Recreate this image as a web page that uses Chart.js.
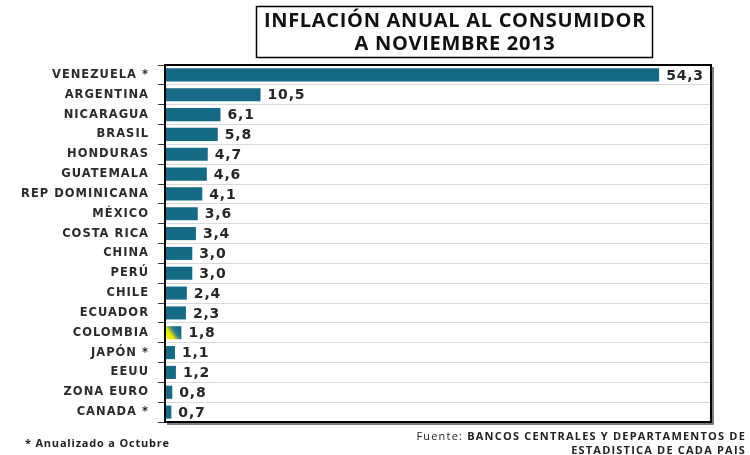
<!DOCTYPE html>
<html><head><meta charset="utf-8">
<script src="https://cdn.jsdelivr.net/npm/chart.js@4/dist/chart.umd.min.js"></script>
<style>html,body{margin:0;padding:0;background:#fff;}#wrap{width:750px;height:455px;position:relative;}</style>
</head><body><div id="wrap"><canvas id="c" width="750" height="455"></canvas></div>
<script>
const categories = ['VENEZUELA *','ARGENTINA','NICARAGUA','BRASIL','HONDURAS','GUATEMALA','REP DOMINICANA','MÉXICO','COSTA RICA','CHINA','PERÚ','CHILE','ECUADOR','COLOMBIA','JAPÓN *','EEUU','ZONA EURO','CANADA *'];
const inflation = [54.3,10.5,6.1,5.8,4.7,4.6,4.1,3.6,3.4,3.0,3.0,2.4,2.3,1.8,1.1,1.2,0.8,0.7];
const highlighted = ['COLOMBIA'];
const titleLines = ['INFLACIÓN ANUAL AL CONSUMIDOR','A NOVIEMBRE 2013'];
const footLeft = '* Anualizado a Octubre';
const sourceLines = ['BANCOS CENTRALES Y DEPARTAMENTOS DE','ESTADISTICA DE CADA PAIS'];

const fmt = v => v.toFixed(1).replace('.', ',');

const barColor = (ctx) => {
  const chart = ctx.chart;
  const i = ctx.dataIndex;
  if (highlighted.includes(categories[i]) && chart.scales.x && chart.scales.y) {
    const xs = chart.scales.x, ys = chart.scales.y;
    const x0 = xs.getPixelForValue(0), x1 = xs.getPixelForValue(inflation[i]);
    const yc = ys.getPixelForValue(i);
    const g = chart.ctx.createLinearGradient(x0, yc + 6, x1, yc - 6);
    g.addColorStop(0, '#ffff00');
    g.addColorStop(0.35, '#e8e800');
    g.addColorStop(0.6, '#2a7a90');
    g.addColorStop(1, '#0d5f7c');
    return g;
  }
  return '#156a86';
};

const decor = {
  id: 'decor',
  beforeDraw(chart) {
    chart.ctx.letterSpacing = '1px';
  },
  afterDatasetsDraw(chart) {
    const ctx = chart.ctx;
    const meta = chart.getDatasetMeta(0);
    ctx.save();
    ctx.letterSpacing = '0.8px';
    ctx.font = 'bold 14px "DejaVu Sans"';
    ctx.fillStyle = '#262626';
    ctx.textBaseline = 'middle';
    ctx.textAlign = 'left';
    meta.data.forEach((el, i) => {
      ctx.fillText(fmt(inflation[i]), el.x + 7, el.y + 1);
    });
    ctx.restore();
  },
  afterDraw(chart) {
    const ctx = chart.ctx;
    const a = chart.chartArea;
    ctx.save();
    ctx.letterSpacing = '0px';
    // plot frame
    ctx.strokeStyle = '#000';
    ctx.lineWidth = 2;
    ctx.strokeRect(a.left, a.top, a.right - a.left, a.bottom - a.top);
    ctx.lineWidth = 1.5;
    ctx.strokeStyle = '#555';
    ctx.beginPath();
    ctx.moveTo(a.right + 2, a.top + 2); ctx.lineTo(a.right + 2, a.bottom + 2); ctx.lineTo(a.left + 2, a.bottom + 2);
    ctx.stroke();
    // title box
    ctx.strokeStyle = '#000';
    ctx.lineWidth = 1.5;
    ctx.strokeRect(256.5, 6.5, 396, 51);
    ctx.fillStyle = '#111';
    ctx.letterSpacing = '0.7px';
    ctx.font = 'bold 20px "Open Sans"';
    ctx.textAlign = 'center';
    ctx.textBaseline = 'middle';
    ctx.fillText(titleLines[0], 455, 21);
    ctx.fillText(titleLines[1], 455, 44);
    // footnotes
    ctx.font = 'bold 11px "Open Sans"';
    ctx.letterSpacing = '0.8px';
    ctx.textAlign = 'left';
    ctx.fillStyle = '#222';
    ctx.fillText(footLeft, 25, 444);
    ctx.letterSpacing = '1.2px';
    ctx.textAlign = 'right';
    ctx.fillText(sourceLines[0], 746, 437);
    ctx.fillText(sourceLines[1], 746, 451);
    const w = ctx.measureText(sourceLines[0]).width;
    ctx.font = '11px "Open Sans"';
    ctx.fillText('Fuente: ', 746 - w, 437);
    ctx.restore();
    ctx.letterSpacing = '0px';
  }
};

new Chart(document.getElementById('c'), {
  type: 'bar',
  data: {
    labels: categories,
    datasets: [{
      data: inflation,
      backgroundColor: barColor,
      borderWidth: 0,
      barPercentage: 0.66,
      categoryPercentage: 1.0
    }]
  },
  options: {
    indexAxis: 'y',
    responsive: false,
    animation: false,
    layout: { padding: { left: 0, right: 39, top: 65, bottom: 33 } },
    plugins: { legend: { display: false }, tooltip: { enabled: false }, title: { display: false } },
    scales: {
      x: { display: false, min: 0, max: 60 },
      y: {
        afterFit: (s) => { s.width = 165; },
        grid: { offset: true, color: '#d9d9d9', lineWidth: 1, tickLength: 7, tickColor: '#333', drawTicks: true },
        border: { display: false },
        ticks: { padding: 9, color: '#2b2b2b', font: { family: 'DejaVu Sans', weight: 'bold', size: 11.5 }, autoSkip: false }
      }
    }
  },
  plugins: [decor]
});
</script></body></html>
